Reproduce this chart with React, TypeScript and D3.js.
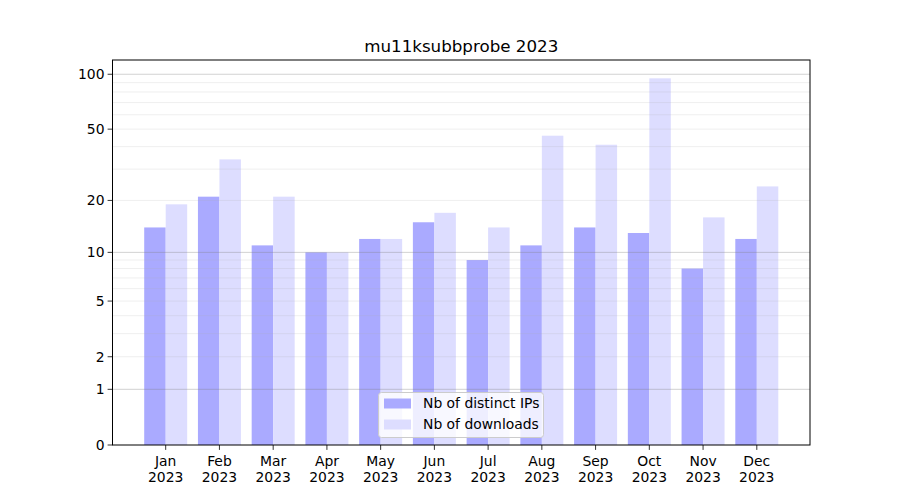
import React from "react";
import * as d3 from "d3";

const months = ["Jan", "Feb", "Mar", "Apr", "May", "Jun", "Jul", "Aug", "Sep", "Oct", "Nov", "Dec"];
const yearLabel = "2023";
const distinctIPs = [14, 21, 11, 10, 12, 15, 9, 11, 14, 13, 8, 12];
const downloads = [19, 34, 21, 10, 12, 17, 14, 46, 41, 95, 16, 24];
const yTickValues = [0, 1, 2, 5, 10, 20, 50, 100];
const majorGrid = [1, 10, 100];
const minorGrid = [2, 3, 4, 5, 6, 7, 8, 9, 20, 30, 40, 50, 60, 70, 80, 90];
const title = "mu11ksubbprobe 2023";
const seriesNames = ["Nb of distinct IPs", "Nb of downloads"];

const W = 900, H = 500;
const L = 112.5, R = 810, T = 60, B = 445;
const font = "DejaVu Sans, sans-serif";
const fs = 13.9;

export default function App() {
  const tf = (v: number) => Math.log10(v + 1);
  const maxT = tf(d3.max(downloads.concat(distinctIPs)) as number) * 1.05;
  const y = d3.scaleLinear().domain([0, maxT]).range([B, T]);
  const yv = (v: number) => y(tf(v));
  const bw = 0.4;
  const n = months.length;
  const lo = -bw, hi = n - 1 + bw;
  const pad = (hi - lo) * 0.05;
  const x = d3.scaleLinear().domain([lo - pad, hi + pad]).range([L, R]);
  const bwPx = x(bw) - x(0);

  return (
    <svg width={W} height={H} style={{ display: "block", position: "absolute", left: 0, top: 0 }} fontFamily={font}>
      <rect x={0} y={0} width={W} height={H} fill="white" />
      {months.map((m, i) => (
        <g key={m}>
          <rect x={x(i) - bwPx} y={yv(distinctIPs[i])} width={bwPx} height={B - yv(distinctIPs[i])} fill="#aaaaff" />
          <rect x={x(i)} y={yv(downloads[i])} width={bwPx} height={B - yv(downloads[i])} fill="#ddddff" />
        </g>
      ))}
      {minorGrid.map((v) => (
        <line key={"mi" + v} x1={L} x2={R} y1={yv(v)} y2={yv(v)} stroke="#b0b0b0" strokeOpacity={0.25} strokeWidth={0.8} />
      ))}
      {majorGrid.map((v) => (
        <line key={"ma" + v} x1={L} x2={R} y1={yv(v)} y2={yv(v)} stroke="#808080" strokeOpacity={0.45} strokeWidth={0.8} />
      ))}
      <rect x={L} y={T} width={R - L} height={B - T} fill="none" stroke="black" strokeWidth={1} />
      {yTickValues.map((v) => (
        <g key={"yt" + v}>
          <line x1={L - 4.9} x2={L} y1={yv(v)} y2={yv(v)} stroke="black" strokeWidth={0.8} />
          <text x={L - 8} y={yv(v)} dy="0.35em" textAnchor="end" fontSize={fs}>{v}</text>
        </g>
      ))}
      {months.map((m, i) => (
        <g key={"xt" + m}>
          <line x1={x(i)} x2={x(i)} y1={B} y2={B + 4.9} stroke="black" strokeWidth={0.8} />
          <text x={x(i)} y={B + 21} textAnchor="middle" fontSize={fs}>{m}</text>
          <text x={x(i)} y={B + 37} textAnchor="middle" fontSize={fs}>{yearLabel}</text>
        </g>
      ))}
      <text x={(L + R) / 2} y={T - 8} textAnchor="middle" fontSize={16.7}>{title}</text>
      <g>
        <rect x={378.5} y={392.5} width={165} height={45} rx={3} fill="white" fillOpacity={0.8} stroke="#cccccc" strokeWidth={1} />
        <rect x={384} y={398.5} width={27} height={10} fill="#aaaaff" />
        <rect x={384} y={419.5} width={27} height={10} fill="#ddddff" />
        <text x={423} y={403.5} dy="0.35em" fontSize={fs}>{seriesNames[0]}</text>
        <text x={423} y={424.5} dy="0.35em" fontSize={fs}>{seriesNames[1]}</text>
      </g>
    </svg>
  );
}
